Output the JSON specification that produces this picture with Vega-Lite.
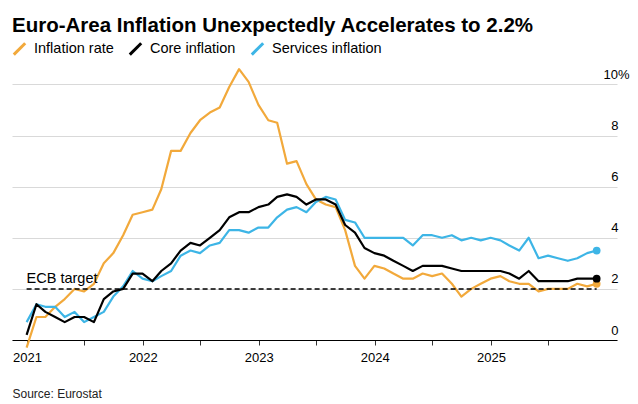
{
  "$schema": "https://vega.github.io/schema/vega-lite/v6.json",
  "width": 605,
  "height": 276,
  "autosize": {"type": "none"},
  "padding": {"left": 12, "top": 64, "right": 21, "bottom": 64},
  "background": "white",
  "config": {"view": {"stroke": null}, "font": "Liberation Sans"},
  "title": {"text": "Euro-Area Inflation Unexpectedly Accelerates to 2.2%", "anchor": "start", "frame": "group", "fontSize": 20.5, "fontWeight": "bold", "color": "#000000", "offset": 5},
  "datasets": {
    "target": [{"start": "2020-12-31", "end": "2025-11-30", "value": 2, "label": "ECB target"}],
    "rates": [
      {"date": "2020-12-31", "headline": -0.3, "core": 0.2, "services": 0.7},
      {"date": "2021-01-31", "headline": 0.9, "core": 1.4, "services": 1.4},
      {"date": "2021-02-28", "headline": 0.9, "core": 1.1, "services": 1.3},
      {"date": "2021-03-31", "headline": 1.3, "core": 0.9, "services": 1.3},
      {"date": "2021-04-30", "headline": 1.6, "core": 0.7, "services": 0.9},
      {"date": "2021-05-31", "headline": 2.0, "core": 0.9, "services": 1.1},
      {"date": "2021-06-30", "headline": 1.9, "core": 0.9, "services": 0.7},
      {"date": "2021-07-31", "headline": 2.2, "core": 0.7, "services": 0.9},
      {"date": "2021-08-31", "headline": 3.0, "core": 1.6, "services": 1.1},
      {"date": "2021-09-30", "headline": 3.4, "core": 1.9, "services": 1.7},
      {"date": "2021-10-31", "headline": 4.1, "core": 2.0, "services": 2.1},
      {"date": "2021-11-30", "headline": 4.9, "core": 2.6, "services": 2.7},
      {"date": "2021-12-31", "headline": 5.0, "core": 2.6, "services": 2.4},
      {"date": "2022-01-31", "headline": 5.1, "core": 2.3, "services": 2.3},
      {"date": "2022-02-28", "headline": 5.9, "core": 2.7, "services": 2.5},
      {"date": "2022-03-31", "headline": 7.4, "core": 3.0, "services": 2.7},
      {"date": "2022-04-30", "headline": 7.4, "core": 3.5, "services": 3.3},
      {"date": "2022-05-31", "headline": 8.1, "core": 3.8, "services": 3.5},
      {"date": "2022-06-30", "headline": 8.6, "core": 3.7, "services": 3.4},
      {"date": "2022-07-31", "headline": 8.9, "core": 4.0, "services": 3.7},
      {"date": "2022-08-31", "headline": 9.1, "core": 4.3, "services": 3.8},
      {"date": "2022-09-30", "headline": 9.9, "core": 4.8, "services": 4.3},
      {"date": "2022-10-31", "headline": 10.6, "core": 5.0, "services": 4.3},
      {"date": "2022-11-30", "headline": 10.1, "core": 5.0, "services": 4.2},
      {"date": "2022-12-31", "headline": 9.2, "core": 5.2, "services": 4.4},
      {"date": "2023-01-31", "headline": 8.6, "core": 5.3, "services": 4.4},
      {"date": "2023-02-28", "headline": 8.5, "core": 5.6, "services": 4.8},
      {"date": "2023-03-31", "headline": 6.9, "core": 5.7, "services": 5.1},
      {"date": "2023-04-30", "headline": 7.0, "core": 5.6, "services": 5.2},
      {"date": "2023-05-31", "headline": 6.1, "core": 5.3, "services": 5.0},
      {"date": "2023-06-30", "headline": 5.5, "core": 5.5, "services": 5.4},
      {"date": "2023-07-31", "headline": 5.3, "core": 5.5, "services": 5.6},
      {"date": "2023-08-31", "headline": 5.2, "core": 5.3, "services": 5.5},
      {"date": "2023-09-30", "headline": 4.3, "core": 4.5, "services": 4.7},
      {"date": "2023-10-31", "headline": 2.9, "core": 4.2, "services": 4.6},
      {"date": "2023-11-30", "headline": 2.4, "core": 3.6, "services": 4.0},
      {"date": "2023-12-31", "headline": 2.9, "core": 3.4, "services": 4.0},
      {"date": "2024-01-31", "headline": 2.8, "core": 3.3, "services": 4.0},
      {"date": "2024-02-29", "headline": 2.6, "core": 3.1, "services": 4.0},
      {"date": "2024-03-31", "headline": 2.4, "core": 2.9, "services": 4.0},
      {"date": "2024-04-30", "headline": 2.4, "core": 2.7, "services": 3.7},
      {"date": "2024-05-31", "headline": 2.6, "core": 2.9, "services": 4.1},
      {"date": "2024-06-30", "headline": 2.5, "core": 2.9, "services": 4.1},
      {"date": "2024-07-31", "headline": 2.6, "core": 2.9, "services": 4.0},
      {"date": "2024-08-31", "headline": 2.2, "core": 2.8, "services": 4.1},
      {"date": "2024-09-30", "headline": 1.7, "core": 2.7, "services": 3.9},
      {"date": "2024-10-31", "headline": 2.0, "core": 2.7, "services": 4.0},
      {"date": "2024-11-30", "headline": 2.2, "core": 2.7, "services": 3.9},
      {"date": "2024-12-31", "headline": 2.4, "core": 2.7, "services": 4.0},
      {"date": "2025-01-31", "headline": 2.5, "core": 2.7, "services": 3.9},
      {"date": "2025-02-28", "headline": 2.3, "core": 2.6, "services": 3.7},
      {"date": "2025-03-31", "headline": 2.2, "core": 2.4, "services": 3.5},
      {"date": "2025-04-30", "headline": 2.2, "core": 2.7, "services": 4.0},
      {"date": "2025-05-31", "headline": 1.9, "core": 2.3, "services": 3.2},
      {"date": "2025-06-30", "headline": 2.0, "core": 2.3, "services": 3.3},
      {"date": "2025-07-31", "headline": 2.0, "core": 2.3, "services": 3.2},
      {"date": "2025-08-31", "headline": 2.0, "core": 2.3, "services": 3.1},
      {"date": "2025-09-30", "headline": 2.2, "core": 2.4, "services": 3.2},
      {"date": "2025-10-31", "headline": 2.1, "core": 2.4, "services": 3.4},
      {"date": "2025-11-30", "headline": 2.2, "core": 2.4, "services": 3.5}
    ]
  },
  "layer": [
    {
      "data": {"name": "rates"},
      "transform": [{"fold": ["headline", "services", "core"], "as": ["series", "value"]}],
      "mark": {"type": "line", "strokeWidth": 2.2, "strokeJoin": "round"},
      "encoding": {
        "x": {
          "field": "date", "type": "temporal",
          "scale": {"type": "utc", "domain": [{"year": 2020, "month": 11, "date": 15, "utc": true}, {"year": 2026, "month": 2, "date": 2, "utc": true}]},
          "axis": {
            "values": [
              {"year": 2021, "month": 1, "date": 1, "utc": true}, {"year": 2021, "month": 4, "date": 1, "utc": true}, {"year": 2021, "month": 7, "date": 1, "utc": true}, {"year": 2021, "month": 10, "date": 1, "utc": true},
              {"year": 2022, "month": 1, "date": 1, "utc": true}, {"year": 2022, "month": 4, "date": 1, "utc": true}, {"year": 2022, "month": 7, "date": 1, "utc": true}, {"year": 2022, "month": 10, "date": 1, "utc": true},
              {"year": 2023, "month": 1, "date": 1, "utc": true}, {"year": 2023, "month": 4, "date": 1, "utc": true}, {"year": 2023, "month": 7, "date": 1, "utc": true}, {"year": 2023, "month": 10, "date": 1, "utc": true},
              {"year": 2024, "month": 1, "date": 1, "utc": true}, {"year": 2024, "month": 4, "date": 1, "utc": true}, {"year": 2024, "month": 7, "date": 1, "utc": true}, {"year": 2024, "month": 10, "date": 1, "utc": true},
              {"year": 2025, "month": 1, "date": 1, "utc": true}, {"year": 2025, "month": 4, "date": 1, "utc": true}, {"year": 2025, "month": 7, "date": 1, "utc": true}, {"year": 2025, "month": 10, "date": 1, "utc": true}
            ],
            "labelExpr": "utcmonth(datum.value) == 0 ? utcFormat(datum.value, '%Y') : ''",
            "grid": false,
            "domainColor": "#000000",
            "domainWidth": 1,
            "tickColor": "#333333",
            "tickSize": 5,
            "labelFontSize": 13,
            "labelColor": "#000000",
            "labelPadding": 6,
            "labelFlush": false,
            "labelOverlap": false,
            "title": "Source: Eurostat",
            "titleX": 0,
            "titleY": 57,
            "titleAlign": "left",
            "titleAnchor": "start",
            "titleBaseline": "alphabetic",
            "titleFontSize": 12,
            "titleFontWeight": "normal",
            "titleColor": "#222222"
          }
        },
        "y": {
          "field": "value", "type": "quantitative",
          "scale": {"domain": [0, 10.8], "nice": false, "zero": false},
          "axis": {
            "orient": "right",
            "values": [0, 2, 4, 6, 8, 10],
            "labelExpr": "datum.value == 10 ? '10%' : datum.label",
            "domain": false,
            "ticks": false,
            "tickSize": 0,
            "grid": true,
            "gridColor": "#d9d9d9",
            "gridWidth": 1,
            "labelAlign": "right",
            "labelBaseline": "alphabetic",
            "labelOffset": -6,
            "labelPadding": {"condition": {"test": "datum.value == 10", "value": 12}, "value": 1},
            "labelFontSize": 13,
            "labelColor": "#000000",
            "title": null
          }
        },
        "color": {
          "field": "series", "type": "nominal",
          "scale": {"domain": ["headline", "core", "services"], "range": ["#f2a93b", "#000000", "#3db5e6"]},
          "legend": {
            "orient": "none",
            "legendX": 0,
            "legendY": -23,
            "direction": "horizontal",
            "title": null,
            "labelExpr": "datum.value == 'headline' ? 'Inflation rate' : datum.value == 'core' ? 'Core inflation' : 'Services inflation'",
            "labelFontSize": 14.5,
            "labelColor": "#000000",
            "symbolType": "M-1,1L1,-1",
            "symbolStrokeWidth": 3,
            "symbolSize": 130,
            "labelOffset": 7,
            "columnPadding": 9
          }
        }
      }
    },
    {
      "data": {"name": "rates"},
      "transform": [
        {"fold": ["headline", "services", "core"], "as": ["series", "value"]},
        {"filter": "utcyear(datum.date) == 2025 && utcmonth(datum.date) == 10"}
      ],
      "mark": {"type": "point", "filled": true, "opacity": 1, "size": 60},
      "encoding": {
        "x": {"field": "date", "type": "temporal"},
        "y": {"field": "value", "type": "quantitative"},
        "color": {"field": "series", "type": "nominal", "legend": null}
      }
    },
    {
      "data": {"name": "target"},
      "mark": {"type": "rule", "strokeDash": [5, 3], "strokeWidth": 1.5, "color": "#000000"},
      "encoding": {
        "x": {"field": "start", "type": "temporal"},
        "x2": {"field": "end"},
        "y": {"field": "value", "type": "quantitative"}
      }
    },
    {
      "data": {"name": "target"},
      "mark": {"type": "text", "align": "left", "baseline": "alphabetic", "dy": -6, "fontSize": 14.5, "color": "#000000"},
      "encoding": {
        "x": {"field": "start", "type": "temporal"},
        "y": {"field": "value", "type": "quantitative"},
        "text": {"field": "label"}
      }
    }
  ]
}
